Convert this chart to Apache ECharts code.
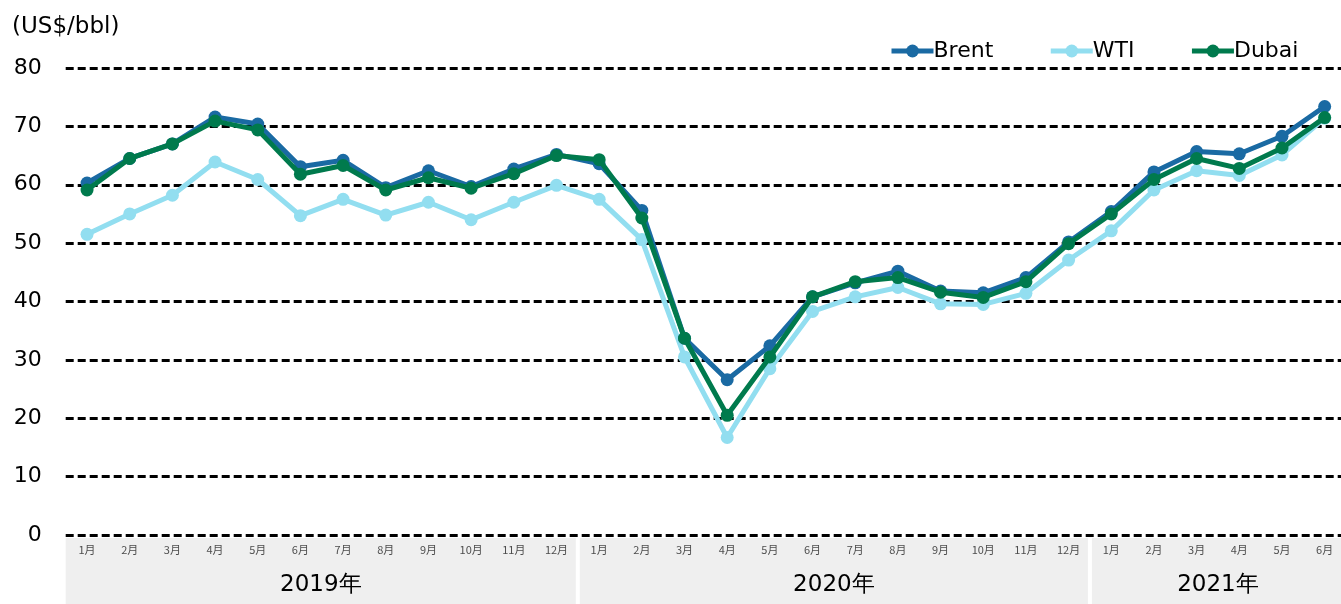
<!DOCTYPE html>
<html>
<head>
<meta charset="utf-8">
<script src="https://cdn.jsdelivr.net/npm/echarts@6/dist/echarts.min.js"></script>
<style>
  html, body { margin: 0; padding: 0; background: #fff; overflow: hidden; }
  #chart { width: 1346px; height: 604px; }
</style>
</head>
<body>
<div id="chart"></div>
<script>
// Monthly crude oil spot prices, Jan 2019 – Jun 2021 (US$/bbl)
const years = ['2019年', '2020年', '2021年'];
const monthsPerYear = [12, 12, 6];
const monthLabels = ['1月','2月','3月','4月','5月','6月','7月','8月','9月','10月','11月','12月'];

const brent = [60.3, 64.5, 67.0, 71.6, 70.4, 63.1, 64.2, 59.5, 62.4, 59.7, 62.7, 65.2,
               63.6, 55.6, 33.7, 26.6, 32.4, 40.8, 43.2, 45.2, 41.8, 41.5, 44.1, 50.2,
               55.4, 62.2, 65.7, 65.3, 68.3, 73.4];
const wti   = [51.5, 55.0, 58.2, 63.9, 60.9, 54.7, 57.5, 54.8, 57.0, 54.0, 57.0, 59.9,
               57.5, 50.6, 30.5, 16.7, 28.5, 38.3, 40.8, 42.4, 39.6, 39.5, 41.4, 47.1,
               52.1, 59.1, 62.4, 61.6, 65.1, 71.4];
const dubai = [59.1, 64.5, 67.0, 70.9, 69.4, 61.8, 63.3, 59.1, 61.2, 59.4, 61.9, 65.0,
               64.3, 54.3, 33.7, 20.5, 30.5, 40.8, 43.4, 44.1, 41.6, 40.7, 43.4, 49.9,
               55.0, 60.9, 64.5, 62.8, 66.3, 71.5];

const yTicks = { min: 0, max: 80, interval: 10 };

// category list: one entry per month, labelled with the month only
const categories = [];
const yearSpans = [];
years.forEach((y, i) => {
  const start = categories.length;
  for (let m = 0; m < monthsPerYear[i]; m++) categories.push(monthLabels[m]);
  yearSpans.push([start, categories.length - 1]);
});

const FONT = '"DejaVu Sans", Verdana, sans-serif';

const chart = echarts.init(document.getElementById('chart'), null, { renderer: 'canvas' });

chart.setOption({
  animation: false,
  backgroundColor: '#ffffff',
  title: {
    text: '(US$/bbl)',
    left: 7,
    top: 11,
    textStyle: { fontFamily: FONT, fontSize: 23, fontWeight: 'normal', color: '#000' }
  },
  legend: {
    data: ['Brent', 'WTI', 'Dubai'],
    left: 884,
    top: 35,
    itemWidth: 42,
    itemHeight: 16,
    itemGap: 55,
    lineStyle: { width: 5 },
    textStyle: { fontFamily: FONT, fontSize: 22, color: '#000', padding: [0, 0, 0, -5] }
  },
  grid: { left: 65.7, top: 68, right: 0, bottom: 69, containLabel: false },
  xAxis: {
    type: 'category',
    data: categories,
    boundaryGap: true,
    z: 10,
    axisLine: { show: false },
    axisTick: { show: false },
    axisLabel: {
      interval: 0,
      margin: 9,
      fontFamily: '"Noto Sans CJK JP", sans-serif',
      fontSize: 11,
      color: '#4d4d4d'
    }
  },
  yAxis: {
    type: 'value',
    min: yTicks.min,
    max: yTicks.max,
    interval: yTicks.interval,
    axisLine: { show: false },
    axisTick: { show: false },
    axisLabel: { margin: 24, fontFamily: FONT, fontSize: 22, color: '#000' },
    splitLine: { lineStyle: { color: '#000', width: 3, type: [8, 4] } }
  },
  series: [
    {
      type: 'custom',
      name: 'years',
      clip: false,
      silent: true,
      z: -1,
      data: yearSpans,
      renderItem: function (params, api) {
        const s = api.value(0), e = api.value(1);
        const w = api.size([1, 0])[0];
        const p0 = api.coord([s, 0]);
        const p1 = api.coord([e, 0]);
        const x0 = p0[0] - w / 2 + (s === 0 ? 0 : 2);
        const x1 = p1[0] + w / 2 - 2;
        const y0 = p0[1] + 3;
        const h = api.getHeight() - y0;
        return {
          type: 'group',
          children: [
            { type: 'rect', shape: { x: x0, y: y0, width: x1 - x0, height: h },
              style: { fill: '#efefef' } },
            { type: 'text',
              style: { text: years[params.dataIndex], x: (x0 + x1) / 2, y: y0 + 47,
                       align: 'center', verticalAlign: 'middle',
                       font: '23px "DejaVu Sans", sans-serif', fill: '#000' } }
          ]
        };
      }
    },
    {
      name: 'Brent', type: 'line', data: brent, z: 3,
      symbol: 'circle', symbolSize: 13,
      lineStyle: { width: 5, color: '#1a6aa3' },
      itemStyle: { color: '#1a6aa3' }
    },
    {
      name: 'WTI', type: 'line', data: wti, z: 2,
      symbol: 'circle', symbolSize: 13,
      lineStyle: { width: 5, color: '#92def0' },
      itemStyle: { color: '#92def0' }
    },
    {
      name: 'Dubai', type: 'line', data: dubai, z: 4,
      symbol: 'circle', symbolSize: 13,
      lineStyle: { width: 5, color: '#007a4d' },
      itemStyle: { color: '#007a4d' }
    }
  ]
});
</script>
</body>
</html>
